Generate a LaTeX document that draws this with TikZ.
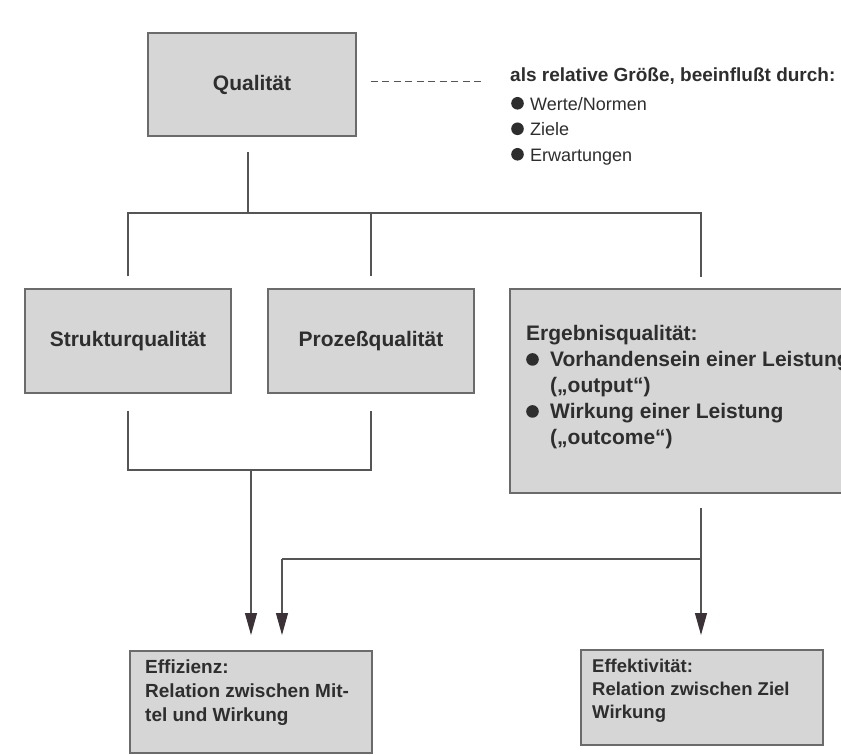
\documentclass[tikz,border=0pt]{standalone}
\usepackage{fontspec}
\setmainfont{Liberation Sans}
\usetikzlibrary{arrows.meta}
\definecolor{boxc}{HTML}{D6D6D6}
\definecolor{edgec}{HTML}{6B6B6B}
\definecolor{linec}{HTML}{555555}
\definecolor{txtc}{HTML}{2E2E2E}
\definecolor{tipc}{HTML}{3A3236}
\newcommand\mybul[1]{\makebox[#1][l]{\tikz[baseline=-7pt,x=1pt,y=1pt]\fill[txtc] (6.3pt,0pt) circle (6.3pt);}}
\begin{document}
\begin{tikzpicture}[x=1pt,y=-1pt,
  box/.style={draw=edgec, fill=boxc, line width=1.2pt, inner sep=0pt, text=txtc},
  conn/.style={draw=linec, line width=1.1pt},
  arr/.style={conn, -{Triangle[length=22pt,width=12pt,color=tipc]}},
  dsh/.style={draw=linec, line width=1pt, dash pattern=on 7pt off 4.5pt},
  txt/.style={text=txtc, inner sep=0pt, align=left}]
\fill[white] (0,0) rectangle (841,755);
\useasboundingbox (0,0) rectangle (841,755);

% boxes
\node[box, minimum width=208pt, minimum height=103pt, font=\fontsize{21}{25}\selectfont\bfseries] (q) at (252,84.5) {Qualität};
\node[box, minimum width=206pt, minimum height=104pt, font=\fontsize{21}{25}\selectfont\bfseries] (s) at (128,341) {Strukturqualität};
\node[box, minimum width=206pt, minimum height=104pt, font=\fontsize{21}{25}\selectfont\bfseries] (p) at (371,341) {Prozeßqualität};
\node[box, minimum width=365pt, minimum height=204pt] (e) at (692.5,391) {};
\node[box, minimum width=242pt, minimum height=102pt] (fz) at (251,702) {};
\node[box, minimum width=242pt, minimum height=95pt] (fk) at (702,697.5) {};

% texts
\node[txt, anchor=west, font=\fontsize{19}{25}\selectfont\bfseries] (rel) at (510,76) {als relative Größe, beeinflußt durch:};
\node[txt, anchor=west, font=\fontsize{18}{25.5}\selectfont] (lst) at (511,131)
  {\mybul{19pt}Werte/Normen\\ \mybul{19pt}Ziele\\ \mybul{19pt}Erwartungen};
\node[txt, anchor=west, font=\fontsize{21}{26}\selectfont\bfseries] (et) at (526,387)
  {Ergebnisqualität:\\
   \mybul{24pt}Vorhandensein einer Leistung\\
   \hspace*{24pt}(„output“)\\
   \mybul{24pt}Wirkung einer Leistung\\
   \hspace*{24pt}(„outcome“)};
\node[txt, anchor=west, font=\fontsize{19}{24}\selectfont\bfseries] (fzt) at (145,693)
  {Effizienz:\\ Relation zwischen Mit-\\ tel und Wirkung};
\node[txt, anchor=west, font=\fontsize{18.5}{23}\selectfont\bfseries] (fkt) at (592,691)
  {Effektivität:\\ Relation zwischen Ziel\\ Wirkung};

% dashed link
\coordinate (d) at (0,81);
\draw[dsh] ([xshift=14pt]q.east|-d) -- ([xshift=-25pt]rel.west|-d);

% top tree
\coordinate (bus) at (0,213);
\coordinate (qB) at (248,152);
\coordinate (sT) at ([yshift=12pt]s.north);
\coordinate (pT) at ([yshift=12pt]p.north);
\coordinate (eT) at (701,277);
\draw[conn] (qB) -- (qB|-bus);
\draw[conn] (sT) -- (sT|-bus) -- (eT|-bus) -- (eT);
\draw[conn] (pT) -- (pT|-bus);

% lower tree
\coordinate (jn) at (0,470);
\coordinate (tip) at (0,635);
\coordinate (sB) at ([yshift=-17pt]s.south);
\coordinate (pB) at ([yshift=-17pt]p.south);
\coordinate (j2) at (251,470);
\draw[conn] (sB) -- (sB|-jn) -- (pB|-jn) -- (pB);
\draw[arr] (j2) -- (j2|-tip);

\coordinate (eB) at (701,508);
\coordinate (h2) at (282,559);
\draw[conn] (eB|-h2) -- (h2);
\draw[arr] (h2) -- (h2|-tip);
\draw[arr] (eB) -- (eB|-tip);
\end{tikzpicture}
\end{document}
